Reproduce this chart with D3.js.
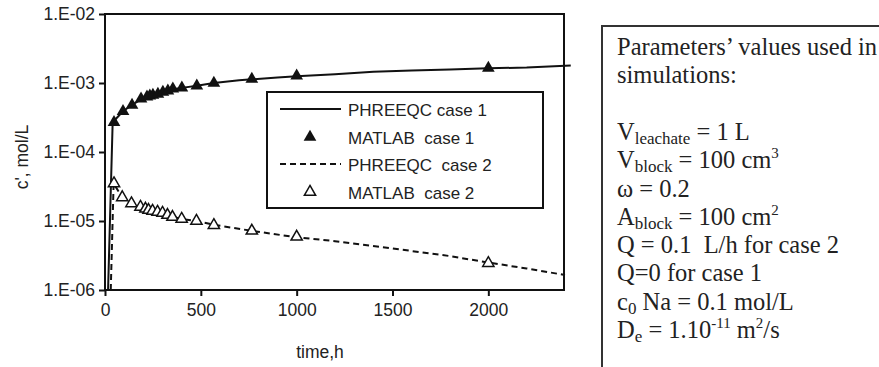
<!DOCTYPE html>
<html>
<head>
<meta charset="utf-8">
<script src="https://cdn.jsdelivr.net/npm/d3@7"></script>
<style>
  body { margin: 0; background: #fff; }
  svg { display: block; }
  .sans { font-family: "Liberation Sans", Arial, sans-serif; fill: #222; }
  .serif { font-family: "Liberation Serif", "Times New Roman", serif; fill: #222; }
</style>
</head>
<body>
<div id="chart"></div>
<script>
// MATLAB points (markers)
const matlab1Time = [47, 94, 141, 188, 219, 234, 250, 276, 302, 328, 354, 401, 479, 568, 766, 1000, 2000];
const matlab1Conc = [2.7e-4, 3.9e-4, 4.8e-4, 5.9e-4, 6.3e-4, 6.5e-4, 6.7e-4, 6.9e-4, 7.4e-4, 7.7e-4, 8.2e-4, 8.5e-4, 9.1e-4, 1.0e-3, 1.14e-3, 1.27e-3, 1.65e-3];
const matlab2Time = [47, 90, 138, 185, 211, 227, 248, 274, 300, 326, 352, 400, 477, 568, 766, 1000, 2000];
const matlab2Conc = [3.5e-5, 2.2e-5, 1.8e-5, 1.6e-5, 1.5e-5, 1.44e-5, 1.4e-5, 1.35e-5, 1.31e-5, 1.22e-5, 1.14e-5, 1.07e-5, 1.0e-5, 8.7e-6, 7.2e-6, 5.9e-6, 2.45e-6];

// PHREEQC curves (lines)
const phreeqc1Time = [16, 40, 94, 141, 188, 250, 302, 354, 401, 479, 568, 700, 766, 900, 1000, 1200, 1400, 1600, 1800, 2000, 2200, 2430];
const phreeqc1Conc = [1e-6, 2.7e-4, 3.9e-4, 4.8e-4, 5.8e-4, 6.6e-4, 7.3e-4, 8.1e-4, 8.5e-4, 9.1e-4, 1.0e-3, 1.1e-3, 1.13e-3, 1.2e-3, 1.25e-3, 1.34e-3, 1.45e-3, 1.52e-3, 1.57e-3, 1.63e-3, 1.68e-3, 1.8e-3];
const phreeqc2Time = [30, 45, 90, 138, 185, 248, 300, 352, 400, 477, 568, 766, 1000, 1200, 1500, 1800, 2000, 2200, 2400];
const phreeqc2Conc = [1e-6, 3.5e-5, 2.2e-5, 1.8e-5, 1.58e-5, 1.38e-5, 1.29e-5, 1.15e-5, 1.07e-5, 1.0e-5, 8.8e-6, 7.2e-6, 5.8e-6, 5.1e-6, 4.0e-6, 3.1e-6, 2.5e-6, 2.05e-6, 1.65e-6];

const xTicks = [0, 500, 1000, 1500, 2000];
const yTicks = [1e-6, 1e-5, 1e-4, 1e-3, 1e-2];
const yTickLabels = ['1.E-06', '1.E-05', '1.E-04', '1.E-03', '1.E-02'];

const legendLabels = ['PHREEQC case 1', 'MATLAB  case 1', 'PHREEQC  case 2', 'MATLAB  case 2'];

const width = 879, height = 367;
const plot = { left: 105, top: 14, right: 564, bottom: 290 };

const svg = d3.select('#chart').append('svg')
  .attr('width', width)
  .attr('height', height);

const x = d3.scaleLinear().domain([0, 2400]).range([plot.left, plot.left + 460]);
const y = d3.scaleLog().domain([1e-6, 1e-2]).range([plot.bottom, plot.top]);

// plot frame
svg.append('rect')
  .attr('x', plot.left).attr('y', plot.top)
  .attr('width', plot.right - plot.left).attr('height', plot.bottom - plot.top)
  .attr('fill', 'none').attr('stroke', '#111').attr('stroke-width', 2);

// axes
const yAxis = svg.append('g')
  .attr('transform', `translate(${plot.left},0)`)
  .call(d3.axisLeft(y).tickValues(yTicks).tickSize(6).tickPadding(4)
    .tickFormat((d, i) => yTickLabels[i]));
const xAxis = svg.append('g')
  .attr('transform', `translate(0,${plot.bottom})`)
  .call(d3.axisBottom(x).tickValues(xTicks).tickSize(6).tickPadding(8)
    .tickFormat(d3.format('d')));
[xAxis, yAxis].forEach(g => {
  g.select('.domain').remove();
  g.selectAll('.tick line').attr('stroke', '#111').attr('stroke-width', 2);
  g.selectAll('.tick text').attr('class', 'sans').style('font-size', '17.5px').attr('fill', '#222');
});

// axis titles
svg.append('text')
  .attr('class', 'sans')
  .attr('x', 320).attr('y', 358)
  .attr('text-anchor', 'middle')
  .style('font-size', '17.5px')
  .text('time,h');
svg.append('text')
  .attr('class', 'sans')
  .attr('transform', 'translate(28,157) rotate(-90)')
  .attr('text-anchor', 'middle')
  .style('font-size', '17.5px')
  .text('c\', mol/L');

// lines
const toPts = (ts, cs) => ts.map((t, i) => ({ t: t, c: cs[i] }));
const line = d3.line().x(d => x(d.t)).y(d => y(d.c));

svg.append('path')
  .datum(toPts(phreeqc1Time, phreeqc1Conc))
  .attr('fill', 'none').attr('stroke', '#111').attr('stroke-width', 2)
  .attr('d', line);
svg.append('path')
  .datum(toPts(phreeqc2Time, phreeqc2Conc))
  .attr('fill', 'none').attr('stroke', '#111').attr('stroke-width', 2)
  .attr('stroke-dasharray', '6,4')
  .attr('d', line);

// markers
const tri = d3.symbol().type(d3.symbolTriangle).size(70);
svg.selectAll('.m1')
  .data(toPts(matlab1Time, matlab1Conc))
  .enter().append('path')
  .attr('class', 'm1')
  .attr('transform', d => `translate(${x(d.t)},${y(d.c)})`)
  .attr('d', tri)
  .attr('fill', '#111');
svg.selectAll('.m2')
  .data(toPts(matlab2Time, matlab2Conc))
  .enter().append('path')
  .attr('class', 'm2')
  .attr('transform', d => `translate(${x(d.t)},${y(d.c)})`)
  .attr('d', d3.symbol().type(d3.symbolTriangle).size(55))
  .attr('fill', '#fff').attr('stroke', '#111').attr('stroke-width', 1.5);

// legend
const lg = svg.append('g');
lg.append('rect')
  .attr('x', 267).attr('y', 92).attr('width', 276).attr('height', 116)
  .attr('fill', '#fff').attr('stroke', '#111').attr('stroke-width', 2);
const rowY = [109, 137, 164, 192];
lg.append('line').attr('x1', 280).attr('x2', 341).attr('y1', rowY[0]).attr('y2', rowY[0])
  .attr('stroke', '#111').attr('stroke-width', 2);
lg.append('path').attr('transform', `translate(310,${rowY[1]})`).attr('d', tri).attr('fill', '#111');
lg.append('line').attr('x1', 280).attr('x2', 341).attr('y1', rowY[2]).attr('y2', rowY[2])
  .attr('stroke', '#111').attr('stroke-width', 2).attr('stroke-dasharray', '6,4');
lg.append('path').attr('transform', `translate(310,${rowY[3]})`)
  .attr('d', d3.symbol().type(d3.symbolTriangle).size(55))
  .attr('fill', '#fff').attr('stroke', '#111').attr('stroke-width', 1.5);
lg.selectAll('.lt')
  .data(legendLabels)
  .enter().append('text')
  .attr('class', 'sans lt')
  .attr('x', 348).attr('y', (d, i) => rowY[i] + 7)
  .style('font-size', '17px')
  .style('white-space', 'pre')
  .text(d => d);

// parameters box
svg.append('rect')
  .attr('x', 602).attr('y', 26).attr('width', 300).attr('height', 360)
  .attr('fill', 'none').attr('stroke', '#333').attr('stroke-width', 2);

const paramLines = [
  [['Parameters\u2019 values used in']],
  [['simulations:']],
  [],
  [['V'], ['leachate', 'sub'], [' = 1 L']],
  [['V'], ['block', 'sub'], [' = 100 cm'], ['3', 'sup']],
  [['\u03c9 = 0.2']],
  [['A'], ['block', 'sub'], [' = 100 cm'], ['2', 'sup']],
  [['Q = 0.1  L/h for case 2']],
  [['Q=0 for case 1']],
  [['c'], ['0', 'sub'], [' Na = 0.1 mol/L']],
  [['D'], ['e', 'sub'], [' = 1.10'], ['-11', 'sup'], [' m'], ['2', 'sup'], ['/s']]
];
const pg = svg.append('g');
paramLines.forEach((parts, i) => {
  if (!parts.length) return;
  const t = pg.append('text')
    .attr('class', 'serif')
    .attr('x', 617).attr('y', 55 + i * 28.3)
    .style('font-size', '24.5px')
    .style('white-space', 'pre');
  parts.forEach(p => {
    const s = t.append('tspan').text(p[0]);
    if (p[1] === 'sub') s.style('font-size', '17px').attr('baseline-shift', '-4');
    if (p[1] === 'sup') s.style('font-size', '15px').attr('baseline-shift', '10');
  });
});
</script>
</body>
</html>
